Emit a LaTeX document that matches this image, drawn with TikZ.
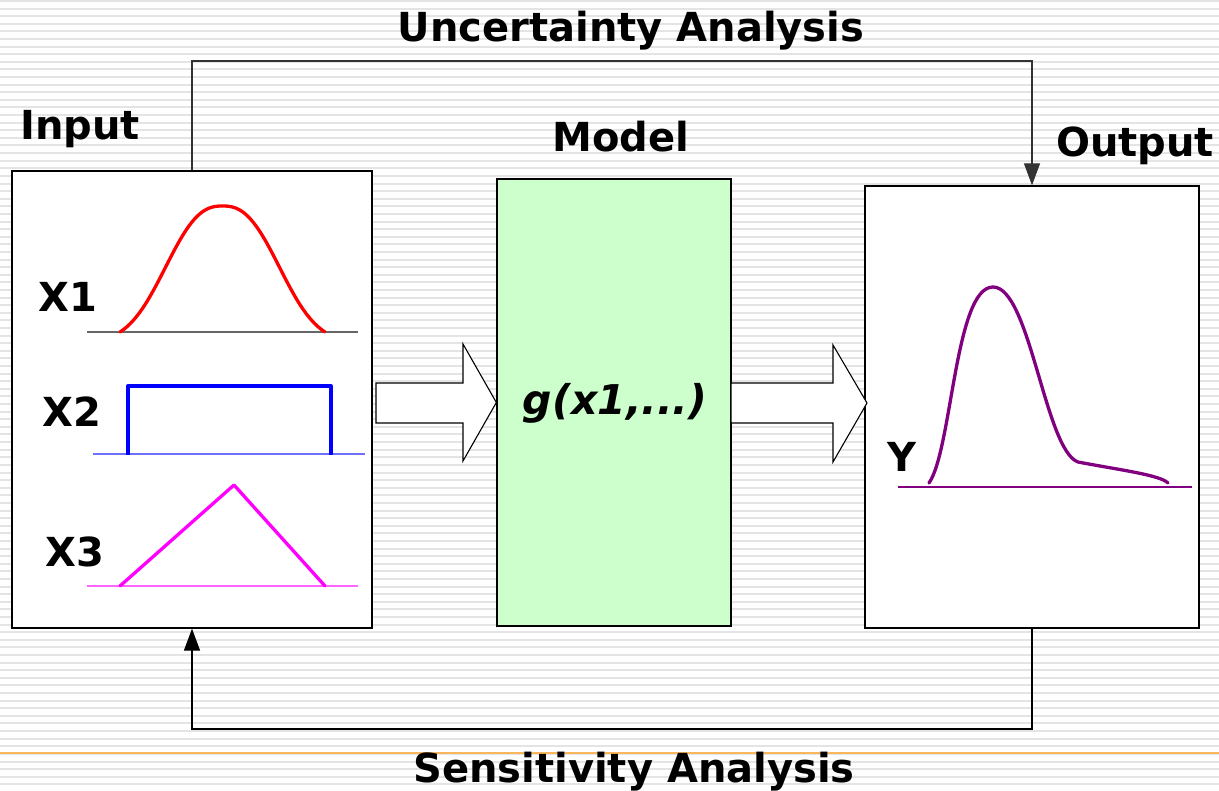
\documentclass[tikz,border=0pt]{standalone}
\usepackage{fontspec}
\setmainfont{DejaVu Sans}
\usetikzlibrary{arrows.meta}
\definecolor{stripe}{HTML}{E4E4E4}
\definecolor{modelgreen}{HTML}{CCFFCC}
\definecolor{rule}{HTML}{F9B65A}
\definecolor{pdfred}{HTML}{FF0000}
\definecolor{pdfblue}{HTML}{0000FF}
\definecolor{pdfblueline}{HTML}{7070FF}
\definecolor{pdfmagenta}{HTML}{FF00FF}
\definecolor{pdfmagline}{HTML}{FF66FF}
\definecolor{pdfpurple}{HTML}{800080}
\begin{document}
\begin{tikzpicture}[x=1pt,y=-1pt,
  panel/.style={draw=black,line width=1.3pt,fill=white,inner sep=0pt},
  modelbox/.style={panel,fill=modelgreen},
  heading/.style={font=\fontsize{40}{42}\selectfont\bfseries,anchor=base,inner sep=0pt},
  varlabel/.style={font=\fontsize{40}{42}\selectfont\bfseries,anchor=base west,inner sep=0pt},
  link/.style={line width=1.2pt,draw=black!80,-{Triangle[length=22pt,width=16pt]}},
  blockarrow/.style={draw=black,line width=1.1pt,fill=white,line join=miter},
  axis/.style={line width=1.3pt},
  density/.style={line width=3.3pt,line cap=round,line join=round}
]
\useasboundingbox (0,0) rectangle (1219,791);
% striped background
\fill[white] (0,0) rectangle (1219,791);
\foreach \i in {0,...,104}
  \fill[stripe] (0,{\i*7.605}) rectangle (1219,{\i*7.605+2});
\draw[rule,line width=1.8pt] (0,752.7) -- (1219,752.7);

% the three panels
\node[panel,minimum width=360pt,minimum height=457pt] (in) at (192,399.5) {};
\node[modelbox,minimum width=234pt,minimum height=447pt] (mdl) at (614,402.5) {};
\node[panel,minimum width=334pt,minimum height=442pt] (out) at (1032,407) {};

% feedback loops
\coordinate (ua) at (612,61);
\coordinate (sa) at (612,729);
\draw[link] (in.north) |- (ua) -| (out.north);
\draw[link,draw=black] (out.south) |- (sa) -| (in.south);

% block arrows between panels
\draw[blockarrow] (376,383) -- (463,383) -- (463,344) -- (mdl.west)
  -- (463,461) -- (463,423) -- (376,423) -- cycle;
\draw[blockarrow] (731,383) -- (833,383) -- (833,345) -- (867,403)
  -- (833,462) -- (833,423) -- (731,423) -- cycle;

% headings
\node[heading] (tua) at (631,42) {Uncertainty Analysis};
\node[heading] (tsa) at (634,782) {Sensitivity Analysis};
\node[heading] (tin) at (80,140) {Input};
\node[heading] (tmd) at (621,152) {Model};
\node[heading] (tout) at (1135,157) {Output};
\node[heading,font=\fontsize{41}{43}\selectfont\bfseries\itshape] (tg) at (615,415) {g(x1,...)};

% input distributions
\node[varlabel] (x1) at (38,312) {X1};
\node[varlabel] (x2) at (42,427) {X2};
\node[varlabel] (x3) at (45,566) {X3};
\draw[axis,draw=black!60] (87,332) -- (358,332);
% rounded bell: exp(-(|t|/0.683)^2.5), rescaled to meet the axis
\draw[density,pdfred] plot[domain=-1:1,samples=81,smooth]
  ({222.5+102.5*\x},{332-126*(exp(-(abs(\x)/0.683)^2.5)-0.0747)/0.9253});
\draw[axis,pdfblueline] (93,454) -- (365,454);
\draw[density,pdfblue,line cap=butt] (128,455) -- (128,386) -- (331,386) -- (331,455);
\draw[axis,pdfmagline] (87,586) -- (358,586);
\draw[density,pdfmagenta] (120,586) -- (234,485) -- (325,586);

% output distribution
\node[varlabel] (y) at (887,472) {Y};
\draw[axis,pdfpurple] (898,487) -- (1192,487);
\draw[density,pdfpurple] (929,483) .. controls (952,450) and (955,287) .. (993,287)
  .. controls (1030,287) and (1045,450) .. (1078,462)
  .. controls (1120,470) and (1160,475) .. (1168,483);
\end{tikzpicture}
\end{document}
